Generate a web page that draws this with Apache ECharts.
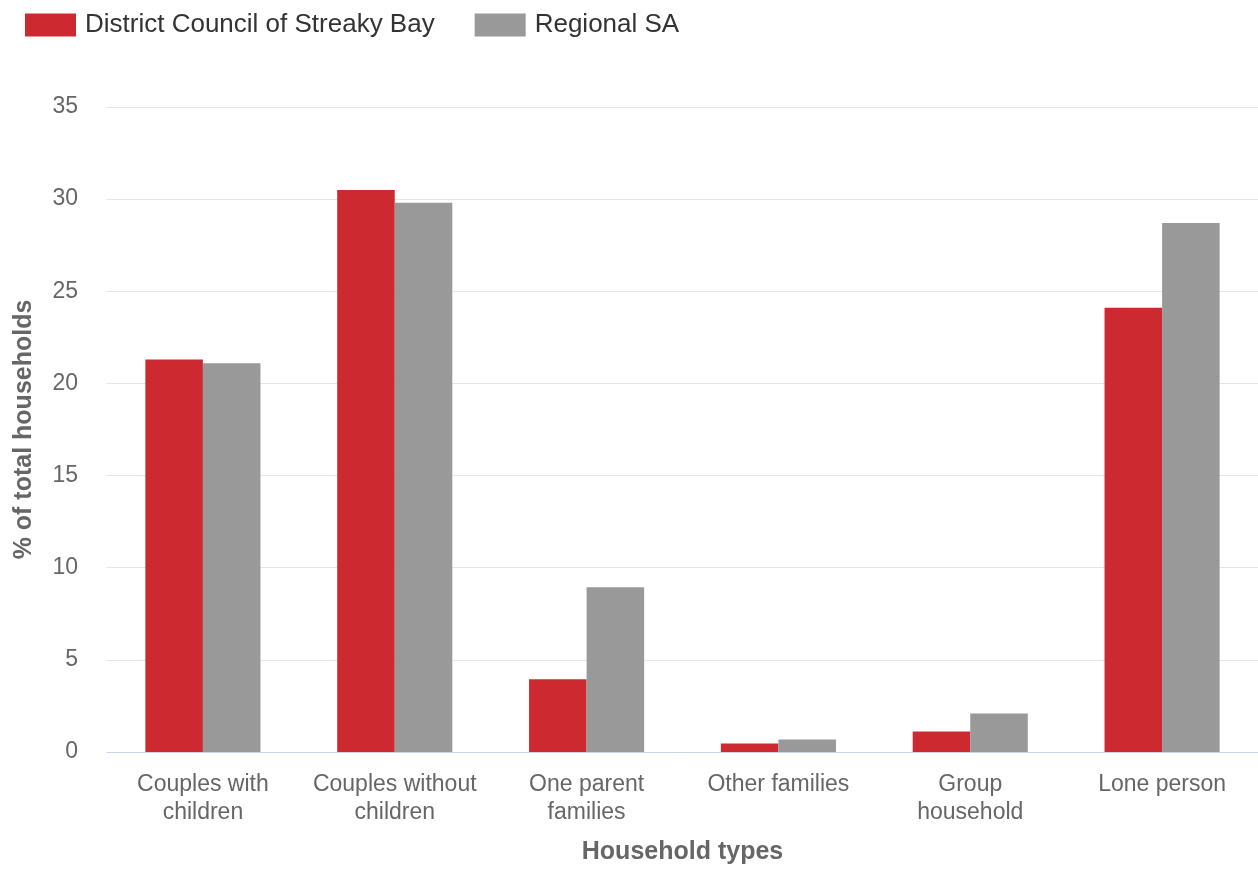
<!DOCTYPE html>
<html>
<head>
<meta charset="utf-8">
<script src="https://cdn.jsdelivr.net/npm/echarts@6/dist/echarts.min.js"></script>
<style>
html,body{margin:0;padding:0;background:#fff;}
#chart{width:1258px;height:870px;}
</style>
</head>
<body>
<div id="chart"></div>
<script>
const categories = ['Couples with\nchildren', 'Couples without\nchildren', 'One parent\nfamilies', 'Other families', 'Group\nhousehold', 'Lone person'];
const seriesNames = ['District Council of Streaky Bay', 'Regional SA'];
const streakyBay = [21.3, 30.5, 3.95, 0.46, 1.11, 24.1];
const regionalSA = [21.1, 29.8, 8.94, 0.68, 2.09, 28.7];
const yTicks = { min: 0, max: 35, interval: 5 };

const FONT = '"Liberation Sans", Arial, sans-serif';
const chart = echarts.init(document.getElementById('chart'), null, { renderer: 'canvas' });
chart.setOption({
  animation: false,
  textStyle: { fontFamily: FONT },
  color: ['#cc2a30', '#999999'],
  legend: {
    left: 25, top: 12, padding: 0,
    itemWidth: 51, itemHeight: 23, itemGap: 40,
    icon: 'rect',
    textStyle: { fontSize: 26, color: '#333333', fontFamily: FONT, padding: [0, 0, 0, 4] },
    data: seriesNames
  },
  grid: { left: 107, right: 0, top: 107, bottom: 116, containLabel: false },
  xAxis: {
    type: 'category',
    data: categories,
    axisLine: { lineStyle: { color: '#ccd6eb', width: 1 } },
    axisTick: { alignWithLabel: true, length: 10, lineStyle: { color: '#ccd6eb' } },
    axisLabel: { fontSize: 23, color: '#666666', margin: 19, lineHeight: 28, fontFamily: FONT, interval: 0 },
    name: 'Household types',
    nameLocation: 'middle',
    nameGap: 88,
    nameTextStyle: { fontSize: 25, fontWeight: 'bold', color: '#666666', fontFamily: FONT }
  },
  yAxis: {
    type: 'value',
    min: yTicks.min, max: yTicks.max, interval: yTicks.interval,
    axisLine: { show: false },
    axisTick: { show: false },
    splitLine: { lineStyle: { color: '#e6e6e6', width: 1 } },
    axisLabel: { fontSize: 23, color: '#666666', margin: 29, fontFamily: FONT },
    name: '% of total households',
    nameLocation: 'middle',
    nameGap: 70,
    nameTextStyle: { fontSize: 25, fontWeight: 'bold', color: '#666666', fontFamily: FONT }
  },
  series: [
    { name: seriesNames[0], type: 'bar', data: streakyBay, barGap: '0%', barCategoryGap: '40%' },
    { name: seriesNames[1], type: 'bar', data: regionalSA, barGap: '0%', barCategoryGap: '40%' }
  ]
});
</script>
</body>
</html>
